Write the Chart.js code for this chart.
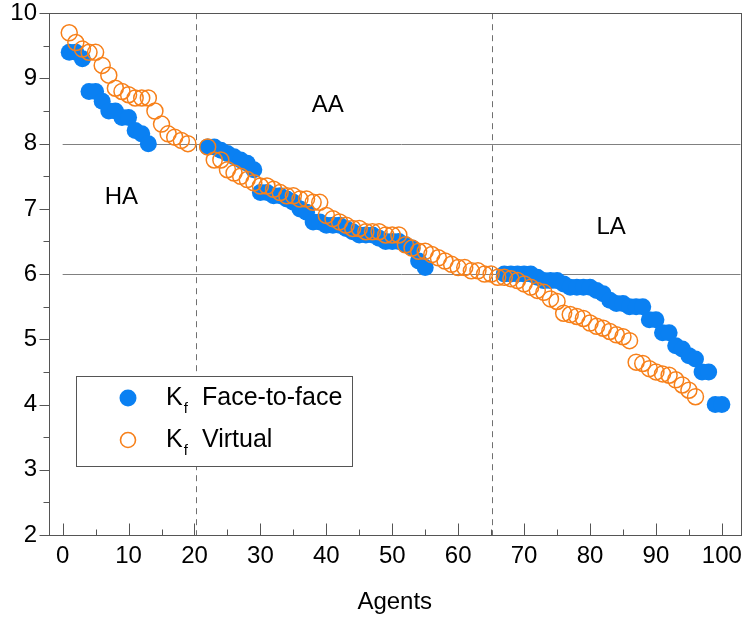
<!DOCTYPE html>
<html>
<head>
<meta charset="utf-8">
<script src="https://cdn.jsdelivr.net/npm/chart.js@4.4.1/dist/chart.umd.min.js"></script>
<style>
  html, body { margin: 0; padding: 0; background: #fff; }
  canvas { display: block; }
</style>
</head>
<body>
<canvas id="c" width="750" height="620"></canvas>
<script>
// ---- data (agent numbers and Kf values) ----
const f2fStarts = [1, 22, 67];
const f2fHA = [9.4, 9.4, 9.3, 8.8, 8.8, 8.65, 8.5, 8.5, 8.4, 8.4, 8.2, 8.15, 8.0];
const f2fAA = [7.95, 7.95, 7.9, 7.85, 7.8, 7.75, 7.7, 7.6, 7.25, 7.25, 7.2, 7.2, 7.15, 7.1, 7.0, 6.95,
               6.8, 6.8, 6.75, 6.75, 6.75, 6.7, 6.65, 6.6, 6.6, 6.6, 6.55, 6.5, 6.5, 6.5, 6.45, 6.4, 6.2, 6.1];
const f2fLA = [6.0, 6.0, 6.0, 6.0, 6.0, 5.95, 5.9, 5.9, 5.9, 5.85, 5.8, 5.8, 5.8, 5.8, 5.75, 5.7, 5.6,
               5.55, 5.55, 5.5, 5.5, 5.5, 5.3, 5.3, 5.1, 5.1, 4.9, 4.85, 4.75, 4.7, 4.5, 4.5, 4.0, 4.0];

const virtStarts = [1, 22, 65];
const virtHA = [9.7, 9.55, 9.45, 9.4, 9.4, 9.2, 9.05, 8.85, 8.8, 8.75, 8.7, 8.7, 8.7, 8.5, 8.3, 8.15, 8.1, 8.05, 8.0];
const virtAA = [7.95, 7.75, 7.75, 7.6, 7.55, 7.5, 7.45, 7.4, 7.35, 7.35, 7.3, 7.25, 7.2, 7.2, 7.15, 7.15, 7.1, 7.1,
                6.9, 6.85, 6.8, 6.75, 6.7, 6.7, 6.65, 6.65, 6.65, 6.6, 6.6, 6.6, 6.45, 6.4, 6.35, 6.35, 6.3,
                6.25, 6.2, 6.15, 6.1, 6.1, 6.05, 6.05, 6.0];
const virtLA = [6.0, 5.95, 5.95, 5.93, 5.9, 5.85, 5.8, 5.75, 5.72, 5.62, 5.58, 5.4, 5.38, 5.35, 5.32, 5.25,
                5.2, 5.17, 5.12, 5.07, 5.04, 4.98, 4.65, 4.63, 4.55, 4.5, 4.47, 4.45, 4.38, 4.3, 4.22, 4.12];

const xTicks = [0, 10, 20, 30, 40, 50, 60, 70, 80, 90, 100];
const yTicks = [2, 3, 4, 5, 6, 7, 8, 9, 10];
const groupLines = [8, 6];           // horizontal class limits
const groupBounds = [20.25, 65.1];   // vertical dashed separators
const regionLabels = ['HA', 'AA', 'LA'];
const regionPos = [[8.9, 7.18], [40.2, 8.59], [83.2, 6.72]];
const seriesNames = ['Face-to-face', 'Virtual'];

// ---- build point lists ----
function toPoints(starts, groups) {
  const pts = [];
  groups.forEach((g, gi) => g.forEach((v, i) => pts.push({ x: starts[gi] + i, y: v })));
  return pts;
}
const f2fPoints = toPoints(f2fStarts, [f2fHA, f2fAA, f2fLA]);
const virtPoints = toPoints(virtStarts, [virtHA, virtAA, virtLA]);

const BLUE = '#0A80F2';
const ORANGE = '#F7801A';
const FONT = "'Liberation Sans', Arial, sans-serif";
const AXIS = '#555';

const decor = {
  id: 'decor',
  beforeDatasetsDraw(chart) {
    const { ctx, chartArea: a, scales: { x, y } } = chart;
    ctx.save();
    ctx.strokeStyle = '#808080';
    ctx.lineWidth = 1;
    groupLines.forEach(v => {
      const py = Math.round(y.getPixelForValue(v)) + 0.5;
      ctx.beginPath();
      ctx.moveTo(x.getPixelForValue(0), py);
      ctx.lineTo(a.right, py);
      ctx.stroke();
    });
    ctx.setLineDash([6, 5]);
    ctx.strokeStyle = '#707070';
    groupBounds.forEach(v => {
      const px = Math.round(x.getPixelForValue(v)) + 0.5;
      ctx.beginPath();
      ctx.moveTo(px, a.top);
      ctx.lineTo(px, a.bottom);
      ctx.stroke();
    });
    ctx.restore();
  },
  afterDraw(chart) {
    const { ctx, chartArea: a, scales: { x, y } } = chart;
    ctx.save();
    // frame
    ctx.strokeStyle = AXIS;
    ctx.lineWidth = 1;
    ctx.strokeRect(Math.round(a.left) + 0.5, Math.round(a.top) + 0.5,
                   Math.round(a.right - a.left), Math.round(a.bottom - a.top));
    // x ticks (inward)
    const bottom = Math.round(a.bottom) + 0.5;
    for (let i = 0; i < xTicks.length; i++) {
      const major = xTicks[i];
      let px = Math.round(x.getPixelForValue(major)) + 0.5;
      ctx.beginPath(); ctx.moveTo(px, bottom); ctx.lineTo(px, bottom - 12); ctx.stroke();
      if (i < xTicks.length - 1) {
        px = Math.round(x.getPixelForValue((major + xTicks[i + 1]) / 2)) + 0.5;
        ctx.beginPath(); ctx.moveTo(px, bottom); ctx.lineTo(px, bottom - 6); ctx.stroke();
      }
    }
    // y ticks (outward)
    const left = Math.round(a.left) + 0.5;
    for (let i = 0; i < yTicks.length; i++) {
      let py = Math.round(y.getPixelForValue(yTicks[i])) + 0.5;
      ctx.beginPath(); ctx.moveTo(left, py); ctx.lineTo(left - 10, py); ctx.stroke();
      if (i < yTicks.length - 1) {
        py = Math.round(y.getPixelForValue((yTicks[i] + yTicks[i + 1]) / 2)) + 0.5;
        ctx.beginPath(); ctx.moveTo(left, py); ctx.lineTo(left - 6, py); ctx.stroke();
      }
    }
    // region labels
    ctx.fillStyle = '#000';
    ctx.font = '24px ' + FONT;
    ctx.textAlign = 'center';
    ctx.textBaseline = 'middle';
    regionLabels.forEach((t, i) => {
      ctx.fillText(t, x.getPixelForValue(regionPos[i][0]), y.getPixelForValue(regionPos[i][1]));
    });
    // legend
    const bx = 76, by = 376, bw = 276, bh = 90;
    ctx.fillStyle = '#fff';
    ctx.fillRect(bx, by, bw, bh);
    ctx.strokeStyle = AXIS;
    ctx.strokeRect(bx + 0.5, by + 0.5, bw, bh);
    const rows = [398, 440];
    // markers
    ctx.beginPath(); ctx.arc(128, rows[0], 8.5, 0, Math.PI * 2);
    ctx.fillStyle = BLUE; ctx.fill();
    ctx.beginPath(); ctx.arc(128, rows[1], 7.5, 0, Math.PI * 2);
    ctx.strokeStyle = ORANGE; ctx.lineWidth = 1.6; ctx.stroke();
    ctx.fillStyle = '#000';
    ctx.textAlign = 'left';
    rows.forEach((ry, i) => {
      ctx.font = '25px ' + FONT;
      ctx.fillText('K', 166, ry);
      const kw = ctx.measureText('K').width;
      ctx.font = '15px ' + FONT;
      ctx.fillText('f', 166 + kw + 1, ry + 11);
      ctx.font = '25px ' + FONT;
      ctx.fillText(seriesNames[i], 202, ry);
    });
    ctx.restore();
  }
};

const hiddenGrid = (len) => ({
  display: true, drawOnChartArea: false, drawTicks: true,
  tickLength: len, color: 'rgba(0,0,0,0)'
});

new Chart(document.getElementById('c'), {
  type: 'scatter',
  data: {
    datasets: [
      {
        label: 'Kf Face-to-face',
        data: f2fPoints,
        order: 1,
        pointRadius: 8.5,
        pointHoverRadius: 8.5,
        backgroundColor: BLUE,
        borderColor: BLUE,
        borderWidth: 0
      },
      {
        label: 'Kf Virtual',
        data: virtPoints,
        order: 0,
        pointRadius: 8,
        pointHoverRadius: 8,
        backgroundColor: 'rgba(0,0,0,0)',
        borderColor: ORANGE,
        borderWidth: 1.5
      }
    ]
  },
  options: {
    responsive: false,
    animation: false,
    devicePixelRatio: 1,
    layout: { padding: { top: 0, right: 0, left: 0, bottom: 0 } },
    plugins: { legend: { display: false }, tooltip: { enabled: false } },
    scales: {
      x: {
        type: 'linear',
        min: -2.07,
        max: 102.83,
        afterFit(s) { s.height = 85; },
        grid: hiddenGrid(8),
        border: { display: false },
        ticks: {
          stepSize: 10, includeBounds: false, maxRotation: 0, autoSkip: false,
          color: '#000', font: { size: 24, family: FONT, lineHeight: 1.1 }, padding: 0
        },
        title: {
          display: true, text: 'Agents', color: '#000',
          font: { size: 24, family: FONT }, padding: { top: 0, bottom: 3 }
        }
      },
      y: {
        min: 2,
        max: 10,
        afterFit(s) { s.width = 49; },
        grid: hiddenGrid(12),
        border: { display: false },
        ticks: {
          stepSize: 1, includeBounds: false,
          color: '#000', font: { size: 24, family: FONT, lineHeight: 1.1 }, padding: 0
        }
      }
    }
  },
  plugins: [decor]
});
</script>
</body>
</html>
